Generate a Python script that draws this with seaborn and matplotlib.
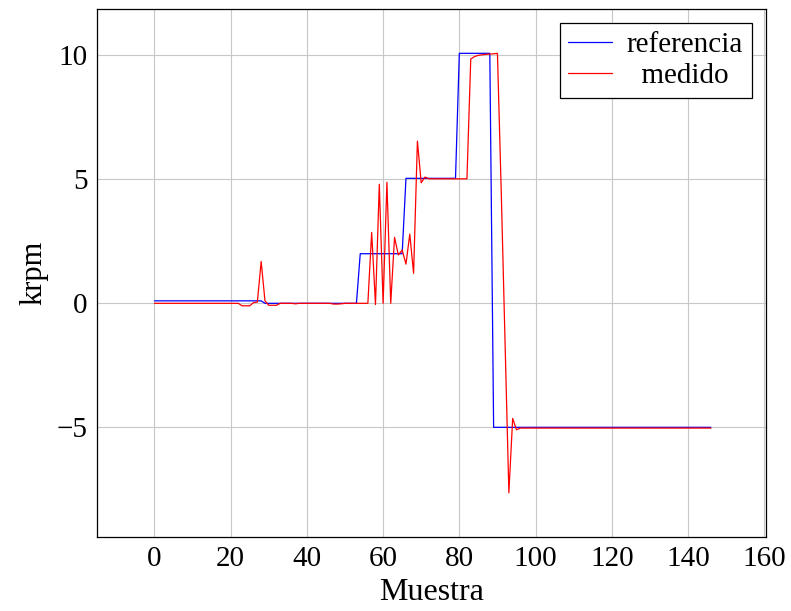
import numpy as np
import pandas as pd
import matplotlib
matplotlib.use("Agg")
import matplotlib.pyplot as plt
import seaborn as sns

# sample index
muestra = list(range(147))

# reference speed (krpm), piecewise constant
referencia = ([0.1] * 29      # 0-28
              + [0.0] * 25    # 29-53
              + [2.0] * 12    # 54-65
              + [5.04] * 14   # 66-79
              + [10.08] * 9   # 80-88
              + [-5.0] * 58)  # 89-146

# measured speed (krpm)
medido = ([0.0] * 23                                   # 0-22
          + [-0.1, -0.1, -0.1, 0.03, 0.05, 1.69, 0.1,  # 23-29
             -0.08, -0.08, -0.08]                      # 30-32
          + [0.0, 0.0, 0.0, 0.0, -0.02, 0.0, 0.0, 0.0,  # 33-40
             0.0, 0.0, 0.0, 0.0, 0.0, 0.0, -0.03, -0.03,  # 41-48
             -0.02, 0.0, 0.0, 0.0, 0.0, 0.0, 0.0, 0.0]  # 49-56
          + [2.86, -0.05, 4.8, 0.0, 4.88, 0.0, 2.66, 1.95,  # 57-64
             2.15, 1.58, 2.79, 1.21, 6.54, 4.86, 5.09]      # 65-71
          + [5.02] * 11                                  # 72-82
          + [9.85, 9.95, 10.0, 10.02, 10.04, 10.05, 10.06, 10.08]  # 83-90
          + [4.5, -1.5, -7.64, -4.64, -5.1]               # 91-95
          + [-5.03] * 51)                                 # 96-146

df = pd.DataFrame({
    "Muestra": muestra * 2,
    "krpm": referencia + medido,
    "serie": ["referencia"] * len(muestra) + ["  medido"] * len(muestra),
})

sns.set_theme(style="whitegrid")
plt.rcParams["font.family"] = ["Liberation Serif", "DejaVu Serif"]
plt.rcParams["text.color"] = "black"
plt.rcParams["axes.labelcolor"] = "black"
plt.rcParams["xtick.color"] = "black"
plt.rcParams["ytick.color"] = "black"

fig = plt.figure(figsize=(7.91, 6.11), dpi=100)
ax = fig.add_axes([0.123, 0.1216, 0.846, 0.8642])

sns.lineplot(data=df, x="Muestra", y="krpm", hue="serie",
             palette={"referencia": "#0000ff", "  medido": "#ff0000"},
             linewidth=0.9, ax=ax)

ax.set_xlim(-15, 160.6)
ax.set_ylim(-9.41, 11.88)
ax.set_xticks(range(0, 161, 20))
ax.set_yticks([-5, 0, 5, 10])

ax.grid(True, color="#c8c8c8", linewidth=0.8)
for s in ax.spines.values():
    s.set_color("black")
    s.set_linewidth(0.9)
ax.tick_params(axis="both", labelsize=21, direction="in", length=4,
               color="#999999", labelcolor="black", pad=7)

ax.set_xlabel("Muestra", fontsize=23, labelpad=4)
ax.set_ylabel("krpm", fontsize=22, labelpad=6)

leg = ax.legend(loc="upper right", fontsize=21, frameon=True, fancybox=False,
                edgecolor="black", framealpha=1, handlelength=1.5,
                handletextpad=0.5, borderaxespad=0.5, labelspacing=0.15,
                borderpad=0.3)
leg.get_frame().set_linewidth(0.9)
for t in leg.get_texts():
    t.set_color("black")

fig.savefig("out.png", dpi=100)
